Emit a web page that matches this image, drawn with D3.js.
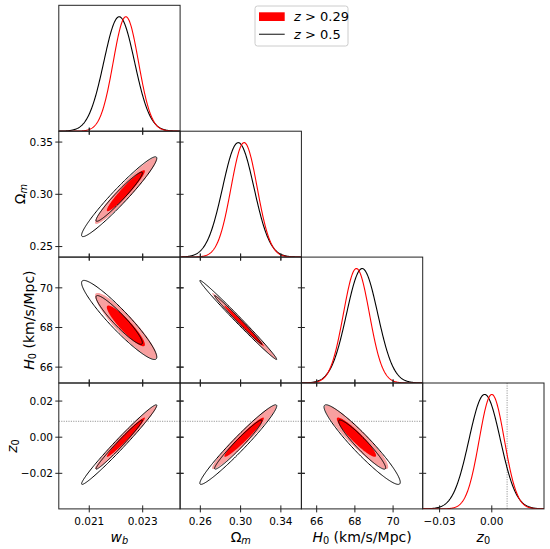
<!DOCTYPE html>
<html>
<head>
<meta charset="utf-8">
<script src="https://cdn.jsdelivr.net/npm/d3@7"></script>
<style>
  body { margin: 0; background: #fff; }
  text { font-family: "DejaVu Sans", sans-serif; fill: #000; }
</style>
</head>
<body>
<div id="container"></div>
<script>
const w = 550, h = 549;

// parameters of the triangle, in order
const paramNames = ["wb", "Om", "H0", "z0"];
const axisLimits = [[0.01986, 0.0244], [0.2399, 0.3604], [65.2, 71.55], [-0.0397, 0.030]];
const colTicks = [[0.021, 0.023], [0.26, 0.30, 0.34], [66, 68, 70], [-0.03, 0.00]];
const rowTicks = [[], [0.25, 0.30, 0.35], [66, 68, 70], [-0.02, 0.00, 0.02]];
const tickDigits = [3, 2, 0, 2];

// z > 0.29 (filled red)
const meanRed = [0.02237, 0.3035, 68.08, 0.0000];
const sigmaRed = [0.000472, 0.0130, 0.68, 0.0072];
// z > 0.5 (black lines)
const meanBlack = [0.02212, 0.2977, 68.38, -0.0041];
const sigmaBlack = [0.000575, 0.0156, 0.815, 0.0090];

// correlations: wb-Om, wb-H0, wb-z0, Om-H0, Om-z0, H0-z0
const pairs = [[0, 1], [0, 2], [0, 3], [1, 2], [1, 3], [2, 3]];
const corrRed = [0.956, -0.915, 0.978, -0.993, 0.966, -0.932];
const corrBlack = [0.963, -0.937, 0.984, -0.994, 0.971, -0.946];

const contourLevels = [0.95, 0.68];
const z0Marker = 0.0088;
const legendLabels = ["0.29", "0.5"];

// layout
const x0 = 58.8, cw = 121.3, y0 = 5.3, rh = 125.9;

let viz = d3.select("#container")
  .append("svg")
    .attr("width", w)
    .attr("height", h)
;

let defs = viz.append("defs");

function colLeft(j){ return x0 + j * cw; }
function rowTop(i){ return y0 + i * rh; }

let xScales = paramNames.map((p, j) => d3.scaleLinear().domain(axisLimits[j]).range([colLeft(j), colLeft(j) + cw]));
let yScales = paramNames.map((p, i) => d3.scaleLinear().domain(axisLimits[i]).range([rowTop(i) + rh, rowTop(i)]));

function fmt(k){
  return d3.format("." + tickDigits[k] + "f");
}

// ellipse points for a gaussian pair at probability level p
function ellipse(mean, sigma, rho, a, b, p){
  let k = Math.sqrt(-2 * Math.log(1 - p));
  let pts = d3.range(0, 2 * Math.PI, Math.PI / 90).map(t => [
    mean[a] + k * sigma[a] * Math.cos(t),
    mean[b] + k * sigma[b] * (rho * Math.cos(t) + Math.sqrt(1 - rho * rho) * Math.sin(t))
  ]);
  return pts;
}

function gauss1d(mean, sigma, k){
  let lim = axisLimits[k];
  return d3.range(0, 301).map(n => {
    let x = lim[0] + (lim[1] - lim[0]) * n / 300;
    return [x, Math.exp(-0.5 * Math.pow((x - mean[k]) / sigma[k], 2))];
  });
}

for (let i = 0; i < 4; i++){
  for (let j = 0; j <= i; j++){
    let id = "clip" + i + j;
    defs.append("clipPath").attr("id", id)
      .append("rect")
        .attr("x", colLeft(j)).attr("y", rowTop(i))
        .attr("width", cw).attr("height", rh);

    let g = viz.append("g").attr("clip-path", "url(#" + id + ")");
    let xs = xScales[j];

    if (i == j){
      // 1D marginal
      let ys = d3.scaleLinear().domain([0, 1.1]).range([rowTop(i) + rh, rowTop(i)]);
      let line = d3.line().x(d => xs(d[0])).y(d => ys(d[1]));
      if (i == 3){
        g.append("line")
          .attr("x1", xs(z0Marker)).attr("x2", xs(z0Marker))
          .attr("y1", rowTop(i)).attr("y2", rowTop(i) + rh)
          .attr("stroke", "#999").attr("stroke-width", 1).attr("stroke-dasharray", "1.2 1.2");
      }
      g.append("path").attr("d", line(gauss1d(meanBlack, sigmaBlack, j)))
        .attr("fill", "none").attr("stroke", "#000").attr("stroke-width", 1.1);
      g.append("path").attr("d", line(gauss1d(meanRed, sigmaRed, j)))
        .attr("fill", "none").attr("stroke", "#ff0000").attr("stroke-width", 1.1);
    } else {
      let ys = yScales[i];
      let pi = pairs.findIndex(p => p[0] == j && p[1] == i);
      let line = d3.line().x(d => xs(d[0])).y(d => ys(d[1])).curve(d3.curveLinearClosed);

      if (i == 3){
        g.append("line")
          .attr("x1", colLeft(j)).attr("x2", colLeft(j) + cw)
          .attr("y1", ys(z0Marker)).attr("y2", ys(z0Marker))
          .attr("stroke", "#999").attr("stroke-width", 1).attr("stroke-dasharray", "1.2 1.2");
      }

      g.append("path").attr("d", line(ellipse(meanRed, sigmaRed, corrRed[pi], j, i, contourLevels[0])))
        .attr("fill", "#f8a0a0");
      g.append("path").attr("d", line(ellipse(meanRed, sigmaRed, corrRed[pi], j, i, contourLevels[1])))
        .attr("fill", "#ff0000");
      contourLevels.forEach(p => {
        g.append("path").attr("d", line(ellipse(meanBlack, sigmaBlack, corrBlack[pi], j, i, p)))
          .attr("fill", "none").attr("stroke", "#000").attr("stroke-width", 1);
      });
    }

    // frame
    viz.append("rect")
      .attr("x", colLeft(j)).attr("y", rowTop(i))
      .attr("width", cw).attr("height", rh)
      .attr("fill", "none").attr("stroke", "#222").attr("stroke-width", 1);

    // ticks (in-out)
    let tk = viz.append("g").attr("stroke", "#222").attr("stroke-width", 1);
    colTicks[j].forEach(t => {
      let x = xs(t);
      tk.append("line").attr("x1", x).attr("x2", x)
        .attr("y1", rowTop(i) + rh - 3.5).attr("y2", rowTop(i) + rh + 3.5);
      if (i != j){
        tk.append("line").attr("x1", x).attr("x2", x)
          .attr("y1", rowTop(i) - 3.5).attr("y2", rowTop(i) + 3.5);
      }
    });
    if (i != j){
      rowTicks[i].forEach(t => {
        let y = yScales[i](t);
        tk.append("line").attr("y1", y).attr("y2", y)
          .attr("x1", colLeft(j) - 3.5).attr("x2", colLeft(j) + 3.5);
        tk.append("line").attr("y1", y).attr("y2", y)
          .attr("x1", colLeft(j) + cw - 3.5).attr("x2", colLeft(j) + cw + 3.5);
      });
    }

    // tick labels
    if (i == 3){
      colTicks[j].forEach(t => {
        viz.append("text").attr("x", xs(t)).attr("y", 525)
          .attr("text-anchor", "middle").attr("font-size", 10.5)
          .text(fmt(j)(t));
      });
    }
    if (j == 0 && i > 0){
      rowTicks[i].forEach(t => {
        viz.append("text").attr("x", 53).attr("y", yScales[i](t))
          .attr("dy", "0.36em")
          .attr("text-anchor", "end").attr("font-size", 10.5)
          .text(fmt(i)(t));
      });
    }
  }
}

// axis labels: [main, italic main?, subscript, italic sub?, rest]
const axisLabelParts = [
  ["w", true, "b", true, ""],
  ["\u03A9", false, "m", true, ""],
  ["H", true, "0", false, " (km/s/Mpc)"],
  ["z", true, "0", false, ""]
];
const leftLabelX = [0, 25, 34, 17];

function addLabel(sel, parts){
  sel.append("tspan").attr("font-style", parts[1] ? "italic" : "normal").text(parts[0]);
  sel.append("tspan").attr("font-size", "70%").attr("dy", "0.22em")
    .attr("font-style", parts[3] ? "italic" : "normal").text(parts[2]);
  if (parts[4]) sel.append("tspan").attr("dy", "-0.154em").text(parts[4]);
}

paramNames.forEach((p, k) => {
  let t = viz.append("text")
    .attr("x", colLeft(k) + cw / 2).attr("y", 542)
    .attr("text-anchor", "middle").attr("font-size", 14);
  addLabel(t, axisLabelParts[k]);
  if (k > 0){
    let tl = viz.append("text")
      .attr("transform", "translate(" + leftLabelX[k] + "," + (rowTop(k) + rh / 2) + ") rotate(-90)")
      .attr("text-anchor", "middle").attr("font-size", 14);
    addLabel(tl, axisLabelParts[k]);
  }
});

// legend
let legend = viz.append("g");
legend.append("rect")
  .attr("x", 255).attr("y", 6).attr("width", 93).attr("height", 40).attr("rx", 2.5)
  .attr("fill", "#fff").attr("stroke", "#ccc").attr("stroke-width", 1);
legend.append("rect")
  .attr("x", 259).attr("y", 12.3).attr("width", 25.7).attr("height", 8.7)
  .attr("fill", "#ff0000");
legend.append("line")
  .attr("x1", 259).attr("x2", 284.7).attr("y1", 34.3).attr("y2", 34.3)
  .attr("stroke", "#444").attr("stroke-width", 1.3);
legendLabels.forEach((l, n) => {
  let t = legend.append("text").attr("x", 294).attr("y", 21 + n * 18).attr("font-size", 13);
  t.append("tspan").attr("font-style", "italic").text("z");
  t.append("tspan").text(" > " + l);
});
</script>
</body>
</html>
